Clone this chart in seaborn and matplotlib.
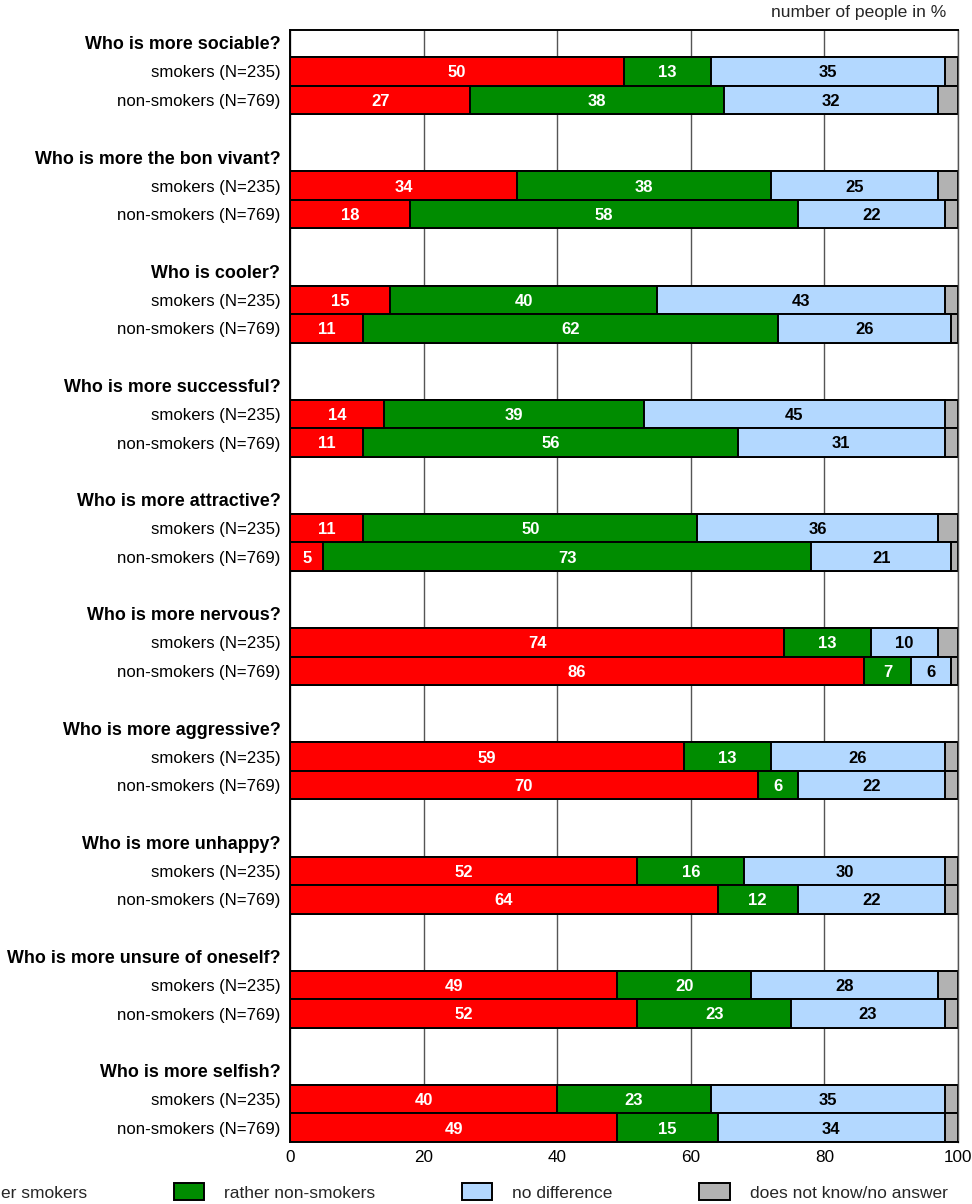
import pandas as pd
import matplotlib.pyplot as plt
import seaborn as sns
from matplotlib.patches import Patch

# data (percent)
questions = ['Who is more sociable?', 'Who is more the bon vivant?', 'Who is cooler?',
             'Who is more successful?', 'Who is more attractive?', 'Who is more nervous?',
             'Who is more aggressive?', 'Who is more unhappy?',
             'Who is more unsure of oneself?', 'Who is more selfish?']
groups = ['smokers (N=235)', 'non-smokers (N=769)']
categories = ['rather smokers', 'rather non-smokers', 'no difference', 'does not know/no answer']

# smokers row, non-smokers row for each question
rather_smokers = [50, 27, 34, 18, 15, 11, 14, 11, 11, 5, 74, 86, 59, 70, 52, 64, 49, 52, 40, 49]
rather_non_smokers = [13, 38, 38, 58, 40, 62, 39, 56, 50, 73, 13, 7, 13, 6, 16, 12, 20, 23, 23, 15]
no_difference = [35, 32, 25, 22, 43, 26, 45, 31, 36, 21, 10, 6, 26, 22, 30, 22, 28, 23, 35, 34]
dont_know = [2, 3, 3, 2, 2, 1, 2, 2, 3, 1, 3, 1, 2, 2, 2, 2, 3, 2, 2, 2]

colors = ['#FF0000', '#008C00', '#B3D8FF', '#B2B2B2']
text_colors = ['white', 'white', 'black', None]

# 4 slots per question: header, smokers, non-smokers, blank
rows = []
for i, q in enumerate(questions):
    for j, g in enumerate(groups):
        k = 2 * i + j
        rows.append({'pos': 4 * i + 1 + j, 'question': q, 'group': g,
                     'rather smokers': rather_smokers[k],
                     'rather non-smokers': rather_non_smokers[k],
                     'no difference': no_difference[k],
                     'does not know/no answer': dont_know[k]})
df = pd.DataFrame(rows)
cum = df[categories].cumsum(axis=1)

sns.set_theme(style='white')
plt.rcParams['font.family'] = ['Liberation Sans', 'DejaVu Sans']

fig = plt.figure(figsize=(9.72, 12.04), dpi=100)
ax = fig.add_axes([290 / 972, 1 - 1142 / 1204, 668 / 972, 1112 / 1204])

# stacked bars: draw cumulative totals from back to front
for c, col in reversed(list(zip(categories, colors))):
    sub = pd.DataFrame({'x': cum[c], 'pos': df['pos']})
    sns.barplot(data=sub, x='x', y='pos', orient='h', native_scale=True, width=1,
                color=col, edgecolor='black', linewidth=1.4, errorbar=None,
                saturation=1, ax=ax)

for c, tc in zip(categories, text_colors):
    if tc is None:
        continue
    for r in range(len(df)):
        v = df.loc[r, c]
        x = cum.loc[r, c] - v / 2
        ax.text(x, df.loc[r, 'pos'] + 0.05, str(v), ha='center', va='center',
                color=tc, fontsize=12, fontweight='bold')

ax.set_xlim(0, 100)
ax.set_ylim(38.5, -0.45)
ax.set_xticks([0, 20, 40, 60, 80, 100])
ax.tick_params(axis='x', length=0, labelsize=12.3, pad=6, colors='black')

yt, yl = [], []
for i, q in enumerate(questions):
    yt += [4 * i, 4 * i + 1, 4 * i + 2]
    yl += [q] + groups
ax.set_yticks(yt)
ax.set_yticklabels(yl)
for lab, t in zip(ax.get_yticklabels(), yt):
    if t % 4 == 0:
        lab.set_fontweight('bold')
        lab.set_fontsize(12.9)
    else:
        lab.set_fontsize(12.1)
ax.tick_params(axis='y', length=0, pad=7, colors='black')
ax.set_xlabel('')
ax.set_ylabel('')

ax.set_axisbelow(True)
ax.xaxis.grid(True, color='#555555', linewidth=1)
ax.yaxis.grid(False)
for s in ['left', 'top', 'bottom']:
    ax.spines[s].set_color('black')
    ax.spines[s].set_linewidth(1.4)
ax.spines['right'].set_color('#555555')
ax.spines['right'].set_linewidth(1)

fig.text(946 / 972, 1 - 13 / 1204, 'number of people in %', ha='right', va='center',
         fontsize=12.6)

handles = [Patch(facecolor=col, edgecolor='black', linewidth=1.4) for col in colors]
fig.legend(handles, categories, loc='center left', bbox_to_anchor=(-0.082, 0.01),
           ncol=4, frameon=False, fontsize=12.5, handlelength=1.75, handleheight=1.15,
           handletextpad=1.15, columnspacing=5.0, borderpad=0, borderaxespad=0)

plt.savefig('out.png', dpi=100)
